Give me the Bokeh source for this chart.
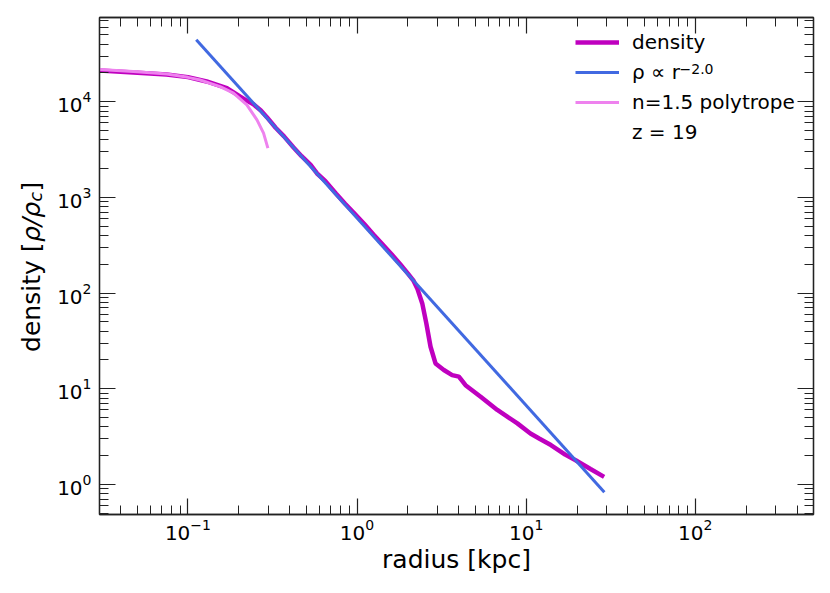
import math
from bokeh.plotting import figure
from bokeh.layouts import row
from bokeh.models import LogAxis, FixedTicker, Legend, LegendItem, Label, CustomJSTickFormatter
from bokeh.embed import file_html
from bokeh.resources import INLINE

# ---------------- data ----------------
density_r = [0.03, 0.0475, 0.0748, 0.1, 0.129, 0.17, 0.204, 0.22, 0.244, 0.27, 0.293,
             0.33, 0.37, 0.42, 0.47, 0.53, 0.58, 0.65, 0.75, 0.85, 0.95, 1.1, 1.25,
             1.4, 1.6, 1.8, 2.0, 2.15, 2.27, 2.43, 2.57, 2.72, 2.91, 3.26, 3.65, 4.0,
             4.38, 5.38, 6.75, 7.5, 8.87, 10.6, 12.0, 14.0, 17.0, 19.6, 24.0, 28.9]
density_rho = [21200, 20200, 19300, 18100, 16300, 13900, 11300, 10400, 9400, 8100, 6900,
               5350, 4350, 3350, 2700, 2200, 1780, 1480, 1100, 860, 700, 530, 410,
               330, 255, 200, 160, 136, 112, 78, 48, 27.5, 18.4, 15.7, 13.9, 13.4,
               10.9, 8.25, 6.0, 5.3, 4.35, 3.41, 3.0, 2.58, 2.05, 1.79, 1.45, 1.20]

fit_r = [0.112, 29.0]
fit_rho = [44400, 0.83]

poly_r = [0.03, 0.0475, 0.075, 0.1, 0.118, 0.155, 0.186, 0.223, 0.256, 0.28, 0.297]
poly_rho = [21800, 20700, 19500, 18000, 16900, 14400, 12300, 9290, 6470, 4700, 3270]

x_major = [0.1, 1, 10, 100]
y_major = [1, 10, 100, 1000, 10000]
x_lim = (0.03, 500)
y_lim = (0.485, 76000)

legend_labels = ["density", "ρ ∝ r", "n=1.5 polytrope", "z = 19"]
fit_exponent = "−2.0"
x_title = "radius [kpc]"
y_title_parts = ["density [", "ρ/ρ", "c", "]"]

FONT = "DejaVu Sans"
INK = "#222222"
H = 576

def minor_ticks(lo, hi):
    out = []
    for k in range(-3, 6):
        for m in range(2, 10):
            v = m * 10 ** k
            if lo * 0.999 <= v <= hi * 1.001:
                out.append(v)
    return out

p = figure(x_axis_type="log", y_axis_type="log", x_range=x_lim, y_range=y_lim,
           frame_width=714, frame_height=497,
           min_border_left=53, min_border_right=8, min_border_top=17, min_border_bottom=62,
           output_backend="svg", toolbar_location=None,
           background_fill_color="white", border_fill_color="white")
p.xgrid.visible = False
p.ygrid.visible = False
p.outline_line_color = INK
p.outline_line_width = 1.3

def style_axis(ax, major, minor, labels=True):
    ax.ticker = FixedTicker(ticks=major, minor_ticks=minor)
    ax.major_tick_in = 16
    ax.major_tick_out = 0
    ax.minor_tick_in = 9
    ax.minor_tick_out = 0
    ax.major_tick_line_color = INK
    ax.minor_tick_line_color = INK
    ax.major_tick_line_width = 1.2
    ax.minor_tick_line_width = 1.0
    ax.axis_line_color = INK
    ax.axis_line_width = 1.3
    if labels:
        ax.major_label_text_font = FONT
        ax.major_label_text_font_size = "20px"
        ax.major_label_text_color = "black"
    else:
        ax.formatter = CustomJSTickFormatter(code="return ''")
        ax.major_label_text_font_size = "0px"
        ax.major_label_standoff = 0

xminor = minor_ticks(*x_lim)
yminor = minor_ticks(*y_lim)

xb = p.xaxis[0]
yl = p.yaxis[0]
style_axis(xb, x_major, xminor)
style_axis(yl, y_major, yminor)
xb.major_label_standoff = 4
yl.major_label_standoff = 8
xb.axis_label = x_title
xb.axis_label_text_font = FONT
xb.axis_label_text_font_size = "25px"
xb.axis_label_text_font_style = "normal"
xb.axis_label_text_color = "black"
xb.axis_label_standoff = 2

xt = LogAxis()
style_axis(xt, x_major, xminor, labels=False)
p.add_layout(xt, "above")
yr = LogAxis()
style_axis(yr, y_major, yminor, labels=False)
p.add_layout(yr, "right")

# ---------------- lines ----------------
r_dens = p.line(density_r, density_rho, line_color="#bf00bf", line_width=4.5)
r_fit = p.line(fit_r, fit_rho, line_color="#4169e1", line_width=3)
r_poly = p.line(poly_r, poly_rho, line_color="#ee82ee", line_width=3)
r_z = p.line([], [], line_alpha=0)

legend = Legend(items=[LegendItem(label=legend_labels[0], renderers=[r_dens]),
                       LegendItem(label=legend_labels[1], renderers=[r_fit]),
                       LegendItem(label=legend_labels[2], renderers=[r_poly]),
                       LegendItem(label=legend_labels[3], renderers=[r_z])],
                location=(476, 370), orientation="vertical",
                glyph_width=44, glyph_height=24, label_height=24, label_standoff=13,
                spacing=6, padding=0, margin=0,
                border_line_color=None, background_fill_alpha=0,
                label_text_font=FONT, label_text_font_size="20px",
                label_text_color="black")
p.add_layout(legend, "center")

p.add_layout(Label(x=580, y=446, x_units="screen", y_units="screen", text=fit_exponent,
                   text_font=FONT, text_font_size="14px", text_color="black",
                   text_align="left", text_baseline="alphabetic"))

# ---------------- y axis title in a narrow side figure ----------------
lf = figure(width=46, height=H, x_range=(0, 1), y_range=(0, 1),
            x_axis_location=None, y_axis_location=None, toolbar_location=None,
            output_backend="svg", min_border=0, outline_line_color=None,
            background_fill_color="white", border_fill_color="white")
lf.grid.visible = False

half_pi = math.pi / 2
def ylab(text, y, x, size, style):
    lf.add_layout(Label(x=x, y=y, x_units="screen", y_units="screen", text=text,
                        angle=half_pi, text_font=FONT, text_font_size=size,
                        text_font_style=style, text_color="black",
                        text_align="left", text_baseline="alphabetic"))

ylab(y_title_parts[0], 162.6, 31.3, "25px", "normal")
ylab(y_title_parts[1], 272.5, 31.3, "25px", "italic")
ylab(y_title_parts[2], 313.0, 35.3, "17.5px", "italic")
ylab(y_title_parts[3], 323.0, 31.3, "25px", "normal")

layout = row(lf, p, spacing=0)
open("out.html", "w").write(file_html(layout, INLINE))
